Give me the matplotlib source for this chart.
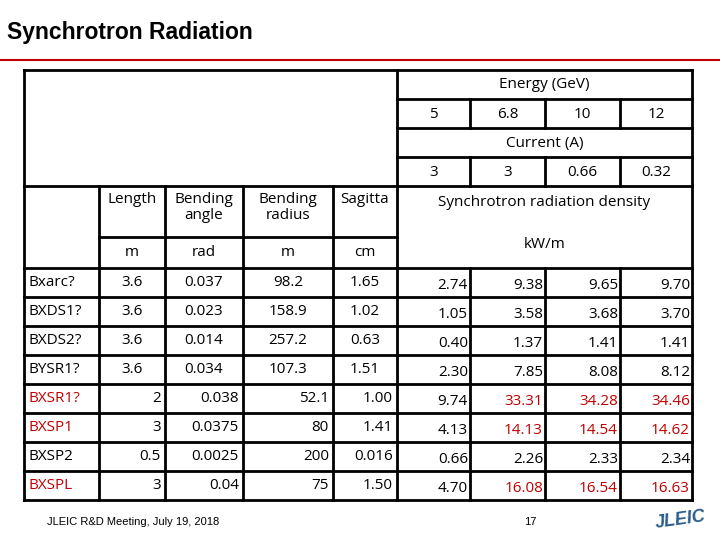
import matplotlib
matplotlib.use("Agg")
import matplotlib.pyplot as plt

# table contents
energies = ["5", "6.8", "10", "12"]
currents = ["3", "3", "0.66", "0.32"]
magnets = ["Bxarc?", "BXDS1?", "BXDS2?", "BYSR1?", "BXSR1?", "BXSP1", "BXSP2", "BXSPL"]
length = ["3.6", "3.6", "3.6", "3.6", "2", "3", "0.5", "3"]
angle = ["0.037", "0.023", "0.014", "0.034", "0.038", "0.0375", "0.0025", "0.04"]
radius = ["98.2", "158.9", "257.2", "107.3", "52.1", "80", "200", "75"]
sagitta = ["1.65", "1.02", "0.63", "1.51", "1.00", "1.41", "0.016", "1.50"]
density = [
    ["2.74", "9.38", "9.65", "9.70"],
    ["1.05", "3.58", "3.68", "3.70"],
    ["0.40", "1.37", "1.41", "1.41"],
    ["2.30", "7.85", "8.08", "8.12"],
    ["9.74", "33.31", "34.28", "34.46"],
    ["4.13", "14.13", "14.54", "14.62"],
    ["0.66", "2.26", "2.33", "2.34"],
    ["4.70", "16.08", "16.54", "16.63"],
]
red_rows = [4, 5, 7]

RED = "#c00000"
FONT = "Open Sans"
xs = [24, 99, 165, 243, 333, 397, 470, 545, 620, 692]
data_top = 268
rh = 29

fig = plt.figure(figsize=(7.2, 5.4), dpi=100)
ax = fig.add_axes([0, 0, 1, 1])
ax.set_xlim(0, 720)
ax.set_ylim(540, 0)
ax.axis("off")

def line(x0, y0, x1, y1):
    ax.plot([x0, x1], [y0, y1], color="black", lw=2, solid_capstyle="projecting")

ax.text(7, 33, "Synchrotron Radiation", fontsize=16.5, fontweight="bold",
        family="Liberation Sans", va="center")
ax.plot([0, 720], [60, 60], color=RED, lw=1.5)

# grid lines
bottom = data_top + rh * len(magnets)
line(xs[0], 70, xs[-1], 70)
for y in [99, 128, 157]:
    line(xs[5], y, xs[-1], y)
line(xs[0], 186, xs[-1], 186)
line(xs[1], 237, xs[5], 237)
for i in range(len(magnets) + 1):
    line(xs[0], data_top + i * rh, xs[-1], data_top + i * rh)
line(xs[0], 70, xs[0], bottom)
line(xs[-1], 70, xs[-1], bottom)
line(xs[5], 70, xs[5], bottom)
for x in xs[6:9]:
    line(x, 99, x, 128)
    line(x, 157, x, 186)
    line(x, data_top, x, bottom)
for x in xs[1:5]:
    line(x, 186, x, bottom)

fs = 11
ax.text((xs[5] + xs[-1]) / 2, 85, "Energy (GeV)", fontsize=fs, family=FONT, ha="center", va="center")
ax.text((xs[5] + xs[-1]) / 2, 143, "Current (A)", fontsize=fs, family=FONT, ha="center", va="center")
for j in range(4):
    cx = (xs[5 + j] + xs[6 + j]) / 2
    ax.text(cx, 114, energies[j], fontsize=fs, family=FONT, ha="center", va="center")
    ax.text(cx, 172, currents[j], fontsize=fs, family=FONT, ha="center", va="center")

heads = ["Length", "Bending\nangle", "Bending\nradius", "Sagitta"]
units = ["m", "rad", "m", "cm"]
for j in range(4):
    cx = (xs[1 + j] + xs[2 + j]) / 2
    ax.text(cx, 192, heads[j], fontsize=fs, family=FONT, ha="center", va="top", linespacing=1.1)
    ax.text(cx, 252, units[j], fontsize=fs, family=FONT, ha="center", va="center")
ax.text((xs[5] + xs[-1]) / 2, 202, "Synchrotron radiation density", fontsize=fs, family=FONT,
        ha="center", va="center")
ax.text((xs[5] + xs[-1]) / 2, 245, "kW/m", fontsize=fs, family=FONT, ha="center", va="center")

cols = [length, angle, radius, sagitta]
for i, name in enumerate(magnets):
    yc = data_top + i * rh + rh / 2
    red = i in red_rows
    ax.text(xs[0] + 4, yc, name, fontsize=fs, family=FONT, va="center",
            color=RED if red else "black")
    for j, col in enumerate(cols):
        if i < 4:
            ax.text((xs[1 + j] + xs[2 + j]) / 2, yc, col[i], fontsize=fs, family=FONT,
                    ha="center", va="center")
        else:
            ax.text(xs[2 + j] - 4, yc, col[i], fontsize=fs, family=FONT, ha="right", va="center")
    for j in range(4):
        c = RED if (red and j > 0) else "black"
        ax.text(xs[6 + j] - 2, yc + 3, density[i][j], fontsize=fs, family=FONT,
                ha="right", va="center", color=c)

ax.text(47, 522, "JLEIC R&D Meeting, July 19, 2018", fontsize=8, family="Liberation Sans", va="center")
ax.text(530, 522, "17", fontsize=8, family="Liberation Sans", ha="center", va="center")
ax.text(680, 520, "JLEIC", fontsize=13, fontweight="bold", style="italic",
        family="Liberation Sans", color="#2a5d8a", ha="center", va="center", rotation=8)

fig.savefig("out.png", dpi=100)
